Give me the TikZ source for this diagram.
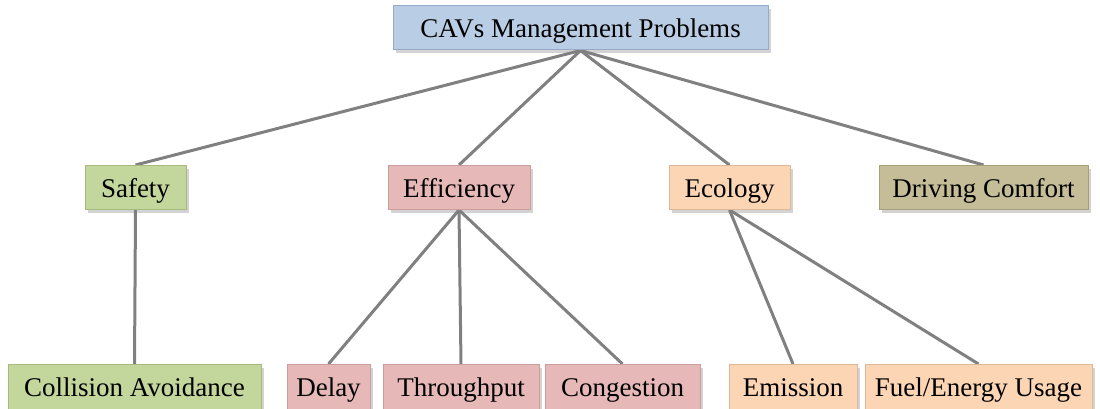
\documentclass[tikz,border=0pt]{standalone}
\usepackage{fontspec}
\setmainfont{Liberation Serif}
\usetikzlibrary{shadows,backgrounds}
\definecolor{rootfill}{HTML}{B9CDE5}
\definecolor{rootline}{HTML}{95AAC6}
\definecolor{safefill}{HTML}{C3D69B}
\definecolor{safeline}{HTML}{A6BA80}
\definecolor{efficfill}{HTML}{E6B9B8}
\definecolor{efficline}{HTML}{C99E9D}
\definecolor{ecofill}{HTML}{FCD5B5}
\definecolor{ecoline}{HTML}{DDB899}
\definecolor{comfortfill}{HTML}{C4BD97}
\definecolor{comfortline}{HTML}{A7A07C}
\definecolor{linkgray}{HTML}{808080}
\begin{document}
\begin{tikzpicture}[
    x=1pt, y=-1pt,
    every node/.style={font=\fontsize{27}{32}\selectfont},
    box/.style={draw, rectangle, line width=1pt, minimum height=44pt, inner sep=0pt,
        text height=22pt, text depth=3pt,
        drop shadow={shadow xshift=3pt, shadow yshift=-3pt, opacity=0.35}},
    rootbox/.style={box, fill=rootfill, draw=rootline},
    safebox/.style={box, fill=safefill, draw=safeline},
    efficbox/.style={box, fill=efficfill, draw=efficline},
    ecobox/.style={box, fill=ecofill, draw=ecoline},
    comfortbox/.style={box, fill=comfortfill, draw=comfortline},
    link/.style={draw=linkgray, line width=3pt}
]
    \useasboundingbox (0,0) rectangle (1100,409);

    % Root
    \node[rootbox, minimum width=375pt] (cav) at (580.5,28) {CAVs Management Problems};

    % Problem classes
    \node[safebox, minimum width=101pt] (safety) at (135.5,187.5) {Safety};
    \node[efficbox, minimum width=142pt] (efficiency) at (459,187.5) {Efficiency};
    \node[ecobox, minimum width=121pt] (ecology) at (729.5,187.5) {Ecology};
    \node[comfortbox, minimum width=209pt] (comfort) at (983.5,187.5) {Driving Comfort};

    % Objectives
    \node[safebox, minimum width=253pt, minimum height=45pt] (collision) at (134.5,387) {Collision Avoidance};
    \node[efficbox, minimum width=83pt, minimum height=45pt] (delay) at (328.5,387) {Delay};
    \node[efficbox, minimum width=156pt, minimum height=45pt] (throughput) at (461,387) {Throughput};
    \node[efficbox, minimum width=155pt, minimum height=45pt] (congestion) at (622.5,387) {Congestion};
    \node[ecobox, minimum width=128pt, minimum height=45pt] (emission) at (793,387) {Emission};
    \node[ecobox, minimum width=227pt, minimum height=45pt] (fuel) at (978.5,387) {Fuel/Energy Usage};

    % Links
    \begin{scope}[on background layer]
        \foreach \child in {safety,efficiency,ecology,comfort}
            \draw[link] (cav.south) -- (\child.north);
        \draw[link] (safety.south) -- (collision.north);
        \foreach \child in {delay,throughput,congestion}
            \draw[link] (efficiency.south) -- (\child.north);
        \foreach \child in {emission,fuel}
            \draw[link] (ecology.south) -- (\child.north);
    \end{scope}
\end{tikzpicture}
\end{document}
